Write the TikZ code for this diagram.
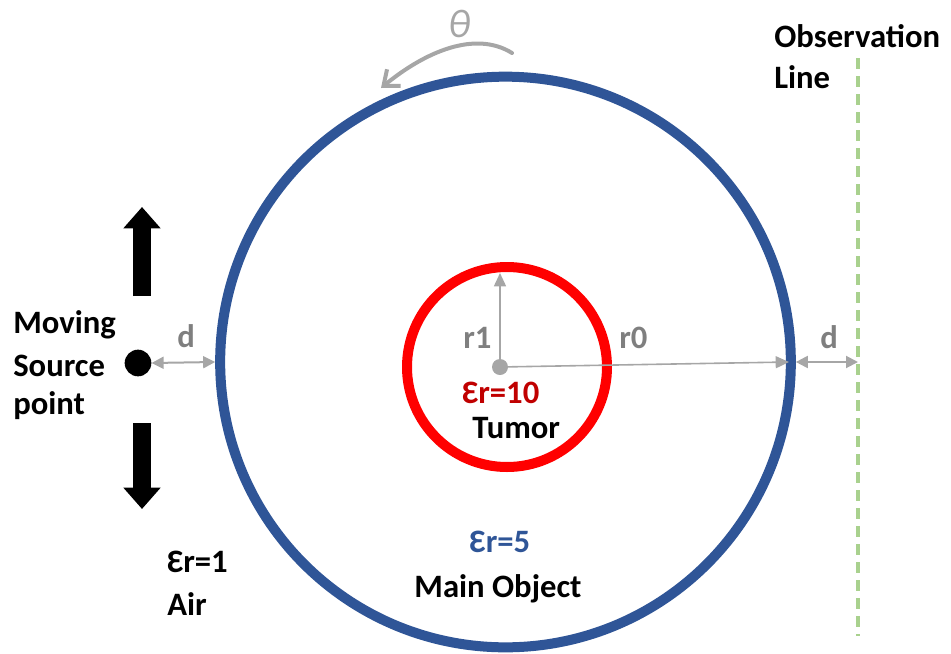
\documentclass[tikz,border=0pt]{standalone}
\usepackage{fontspec}
\setmainfont{Carlito}
\usetikzlibrary{arrows.meta}
\definecolor{objblue}{HTML}{2F5597}
\definecolor{tumred}{HTML}{FF0000}
\definecolor{darkred}{HTML}{C00000}
\definecolor{lgray}{HTML}{A6A6A6}
\definecolor{dgray}{HTML}{7F7F7F}
\definecolor{obsgreen}{HTML}{A9D18E}
\tikzset{
  lbl/.style={font=\fontsize{24.5}{28}\selectfont\bfseries, inner sep=0pt, anchor=base west},
  lblc/.style={font=\fontsize{24.5}{28}\selectfont\bfseries, inner sep=0pt, anchor=base},
  dimarrow/.style={draw=lgray, line width=1.5pt, {Triangle[width=9pt,length=9pt]}-{Triangle[width=9pt,length=9pt]}},
  radarrow/.style={draw=lgray, line width=1.2pt, -{Triangle[width=9pt,length=10pt]}},
  blockarrow/.style={line width=14pt, -{Triangle[width=27pt,length=16pt]}},
}
\begin{document}
\begin{tikzpicture}[x=0.75pt,y=-0.75pt]
\useasboundingbox (0,0) rectangle (951,654);
% main object
\node[circle, draw=objblue, line width=7.5pt, minimum size=428pt, inner sep=0pt] (obj) at (505.5,362) {};
% tumor
\node[circle, draw=tumred, line width=7.5pt, minimum size=150pt, inner sep=0pt] (tum) at (507,367) {};
% centre dot
\node[circle, fill=lgray, minimum size=12pt, inner sep=0pt] (ctr) at (500,367) {};
\coordinate (r1end) at (500,273);
\coordinate (r0end) at (789,362);
\draw[radarrow] (ctr.center) -- (r1end);
\draw[radarrow] (ctr.center) -- (r0end);
\node[lbl, text=dgray] (r1) at (463,348) {r1};
\node[lbl, text=dgray] (r0) at (619,348) {r0};
% source point
\node[circle, fill=black, minimum size=20pt, inner sep=0pt] (src) at (138,363) {};
\coordinate (srcU1) at (142,296);
\coordinate (srcU2) at (142,207);
\coordinate (srcD1) at (142,423);
\coordinate (srcD2) at (142,509);
\draw[blockarrow] (srcU1) -- (srcU2);
\draw[blockarrow] (srcD1) -- (srcD2);
\draw[dimarrow] (src.east) -- (obj.west);
\node[lbl, text=dgray] (dL) at (177,347) {d};
% observation line
\coordinate (obsTop) at (858,58);
\coordinate (obsBot) at (858,636);
\coordinate (obsMid) at (858,362);
\draw[obsgreen, line width=2.4pt, dash pattern=on 8pt off 5.5pt] (obsTop) -- (obsBot);
\draw[dimarrow] (obj.east) -- (obsMid);
\node[lbl, text=dgray] (dR) at (820,348) {d};
\node[lbl] (obs1) at (774,47) {Observation};
\node[lbl] (obs2) at (774,88) {Line};
% theta
\coordinate (thA) at (512,53);
\coordinate (thB) at (381,88);
\draw[lgray, line width=3pt, line cap=round, -{Straight Barb[length=10pt,width=16pt]}] (thA) .. controls (475,30) and (425,52) .. (thB);
\node[font=\fontsize{30}{32}\selectfont\itshape, text=lgray, inner sep=0pt, anchor=base] (theta) at (460,37) {θ};
% labels
\node[lbl] (mv) at (13,333) {Moving};
\node[lbl] (so) at (13,376) {Source};
\node[lbl] (pt) at (13,414) {point};
\node[lbl, text=darkred] (er10) at (462,403) {Ɛr=10};
\node[lbl] (tumor) at (472,438) {Tumor};
\node[lblc, text=objblue] (er5) at (500,552) {Ɛr=5};
\node[lblc] (main) at (498,597) {Main Object};
\node[lbl] (er1) at (167,572) {Ɛr=1};
\node[lbl] (air) at (167,615) {Air};
\end{tikzpicture}
\end{document}
